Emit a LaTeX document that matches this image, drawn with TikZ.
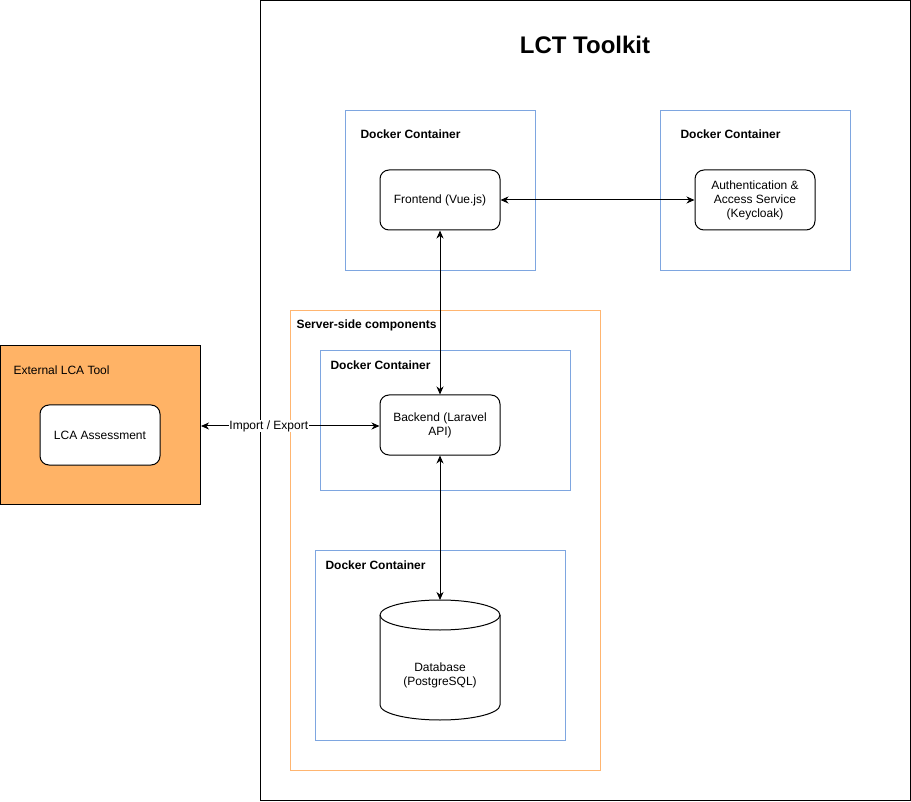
\documentclass[tikz,border=0pt]{standalone}
\usepackage{fontspec}
\setmainfont{Liberation Sans}
\usetikzlibrary{arrows.meta,shapes.geometric}
\definecolor{dockerblue}{HTML}{7EA6E0}
\definecolor{groupline}{HTML}{FFB570}
\definecolor{toolfill}{HTML}{FFB366}
\begin{document}
\begin{tikzpicture}[x=1pt,y=-1pt,
  every node/.style={font=\fontsize{12}{14}\selectfont},
  docker/.style={draw=dockerblue,line width=1pt},
  dlabel/.style={anchor=west,font=\fontsize{12}{14}\selectfont\bfseries},
  svc/.style={draw,line width=1pt,rounded corners=9pt,fill=white,minimum width=120pt,minimum height=60pt,align=center,inner sep=0pt},
  link/.style={line width=1pt,{Stealth[length=8pt,width=7pt,inset=2.5pt]}-{Stealth[length=8pt,width=7pt,inset=2.5pt]}}
]
\useasboundingbox (0,0) rectangle (911,802);
\fill[white] (0,0) rectangle (911,802);

% toolkit frame and title
\draw[line width=1pt] (260.5,0.5) rectangle (910,800);
\node[font=\fontsize{24}{28}\selectfont\bfseries] (title) at (585,45) {LCT Toolkit};

% frontend container
\draw[docker] (345.5,110.5) rectangle (535.5,270.5);
\node[dlabel] (dl1) at (357,134) {Docker Container};
\node[svc] (front) at (440,200) {Frontend (Vue.js)};

% authentication container
\draw[docker] (660.5,110.5) rectangle (850.5,270.5);
\node[dlabel] (dl2) at (677,134) {Docker Container};
\node[svc] (auth) at (755,200) {Authentication \&\\Access Service\\(Keycloak)};

% server-side group
\draw[draw=groupline,line width=1pt] (290.5,310.5) rectangle (600.5,770.5);
\node[dlabel] (sl) at (293,325) {Server-side components};

% backend container
\draw[docker] (320.5,350.5) rectangle (570.5,490.5);
\node[dlabel] (dl3) at (327,365) {Docker Container};
\node[svc] (back) at (440,425) {Backend (Laravel\\API)};

% database container with cylinder
\draw[docker] (315.5,550.5) rectangle (565.5,740.5);
\node[dlabel] (dl4) at (322,565) {Docker Container};
\draw[line width=1pt,fill=white] (380,615) -- (380,705)
  arc[start angle=180,end angle=360,x radius=60,y radius=-15] -- (500,615)
  arc[start angle=0,end angle=180,x radius=60,y radius=-15] -- cycle;
\draw[line width=1pt] (380,615) arc[start angle=180,end angle=360,x radius=60,y radius=-15];
\node[align=center] (db) at (440,675) {Database\\(PostgreSQL)};
\coordinate (dbtop) at (440,600);

% external tool
\node[draw,line width=1pt,fill=toolfill,minimum width=200pt,minimum height=158pt,inner sep=0pt] (ext) at (100.5,425) {};
\node[anchor=west] (el) at (10,370) {External LCA Tool};
\node[svc] (lca) at (100,435) {LCA Assessment};

% connectors
\draw[link] (front.east) -- (auth.west);
\draw[link] (front.south) -- (back.north);
\draw[link] (back.south) -- (dbtop);
\draw[link] (ext.east |- 0,426) -- node[pos=0.38,fill=white,inner sep=0.5pt] (ie) {Import / Export} (back.west |- 0,426);
\end{tikzpicture}
\end{document}
